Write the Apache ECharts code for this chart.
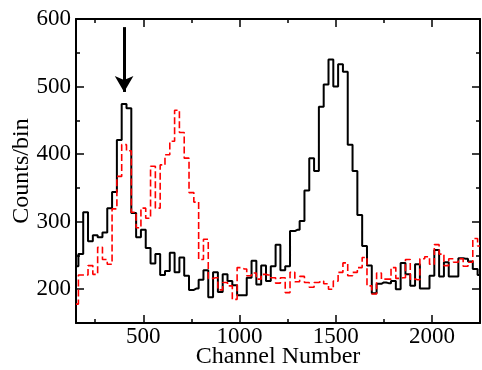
<!DOCTYPE html>
<html>
<head>
<meta charset="utf-8">
<script src="https://cdn.jsdelivr.net/npm/echarts@6/dist/echarts.min.js"></script>
<style>html,body{margin:0;padding:0;background:#fff}#c{width:482px;height:370px}</style>
</head>
<body>
<div id="c"></div>
<script>
const channels = [150,175,200,225,250,275,300,325,350,375,400,425,450,475,500,525,550,575,600,625,650,675,700,725,750,775,800,825,850,875,900,925,950,975,1000,1025,1050,1075,1100,1125,1150,1175,1200,1225,1250,1275,1300,1325,1350,1375,1400,1425,1450,1475,1500,1525,1550,1575,1600,1625,1650,1675,1700,1725,1750,1775,1800,1825,1850,1875,1900,1925,1950,1975,2000,2025,2050,2075,2100,2125,2150,2175,2200,2225,2250];
const blackCounts = [234,252,314,271,280,277,284,320,344,421, 474,468,313,277,288,261,238,252,221,227, 254,225,247,220,199,201,214,228,188,225, 196,222,212,206,191,191,217,242,207,235, 212,234,266,228,234,286,288,301,346,394, 375,470,503,540,500,533,522,414,375,310, 264,235,194,208,210,209,212,200,239,222, 205,237,201,201,220,258,219,240,219,219, 246,245,241,230,221];
const redCounts = [178,221,221,235,222,262,244,237,319,367, 414,405,314,291,320,305,382,320,384,399, 419,465,432,394,343,329,244,274,216,217, 199,210,205,185,232,230,220,224,215,222, 221,217,209,217,195,225,211,219,210,203, 210,212,208,200,212,225,239,220,225,232, 247,205,193,224,215,215,232,216,217,244, 215,214,245,248,237,266,252,235,245,240, 245,234,240,275,264];
const xMajorTicks = [500,1000,1500,2000];
const xMinorTicks = [250,750,1250,1750];
const yMajorTicks = [200,300,400,500,600];
const yMinorTicks = [250,350,450,550];
const arrowChannel = [400];
const arrowFrom = [588];
const arrowTo = [492];

const FONT = 'Liberation Serif';
const chart = echarts.init(document.getElementById('c'), null, {renderer:'canvas'});
function xAx(pos, ticks, len, labels, line, name){
  return {type:'value', min:150, max:2250, position:pos,
    axisLine:{show:line, onZero:false, lineStyle:{color:'#000', width:2}},
    axisTick:{show:true, inside:true, length:len, customValues:ticks, lineStyle:{color:'#000', width:1.5}},
    axisLabel:{show:labels, customValues:ticks, color:'#000', fontFamily:FONT, fontSize:23, margin:2,
      formatter:(v)=>String(v)},
    splitLine:{show:false},
    name: name||'', nameLocation:'middle', nameGap:22, nameMoveOverlap:false,
    nameTextStyle:{color:'#000', fontFamily:FONT, fontSize:24}};
}
function yAx(pos, ticks, len, labels, line, name){
  return {type:'value', min:150, max:600, position:pos,
    axisLine:{show:line, onZero:false, lineStyle:{color:'#000', width:2}},
    axisTick:{show:true, inside:true, length:len, customValues:ticks, lineStyle:{color:'#000', width:1.5}},
    axisLabel:{show:labels, customValues:ticks, color:'#000', fontFamily:FONT, fontSize:23, margin:5,
      formatter:(v)=>String(v)},
    splitLine:{show:false},
    name: name||'', nameLocation:'middle', nameGap:42, nameRotate:90, nameMoveOverlap:false,
    nameTextStyle:{color:'#000', fontFamily:FONT, fontSize:24}};
}
chart.setOption({
  animation:false,
  backgroundColor:'#fff',
  grid:{left:76, right:2, top:19, bottom:47, containLabel:false, outerBoundsMode:'none'},
  xAxis:[
    xAx('bottom', xMajorTicks, 8, true, true, 'Channel Number'),
    xAx('bottom', xMinorTicks, 4, false, false),
    xAx('top', xMajorTicks, 8, false, true),
    xAx('top', xMinorTicks, 4, false, false)
  ],
  yAxis:[
    yAx('left', yMajorTicks, 8, true, true, 'Counts/bin'),
    yAx('left', yMinorTicks, 4, false, false),
    yAx('right', yMajorTicks, 8, false, true),
    yAx('right', yMinorTicks, 4, false, false)
  ],
  series:[
    {type:'line', step:'middle', symbol:'none', xAxisIndex:0, yAxisIndex:0,
     data: channels.map((c,i)=>[c, blackCounts[i]]),
     lineStyle:{color:'#000', width:2},
     markLine:{silent:true, symbol:['none','arrow'], symbolSize:[14,16],
       lineStyle:{color:'#000', width:3, type:'solid'}, label:{show:false},
       data:[[{coord:[arrowChannel[0], arrowFrom[0]]},{coord:[arrowChannel[0], arrowTo[0]]}]]}},
    {type:'line', step:'middle', symbol:'none', xAxisIndex:0, yAxisIndex:0,
     data: channels.map((c,i)=>[c, redCounts[i]]),
     lineStyle:{color:'#ff0000', width:1.6, type:[7,3]}}
  ]
});
</script>
</body>
</html>
